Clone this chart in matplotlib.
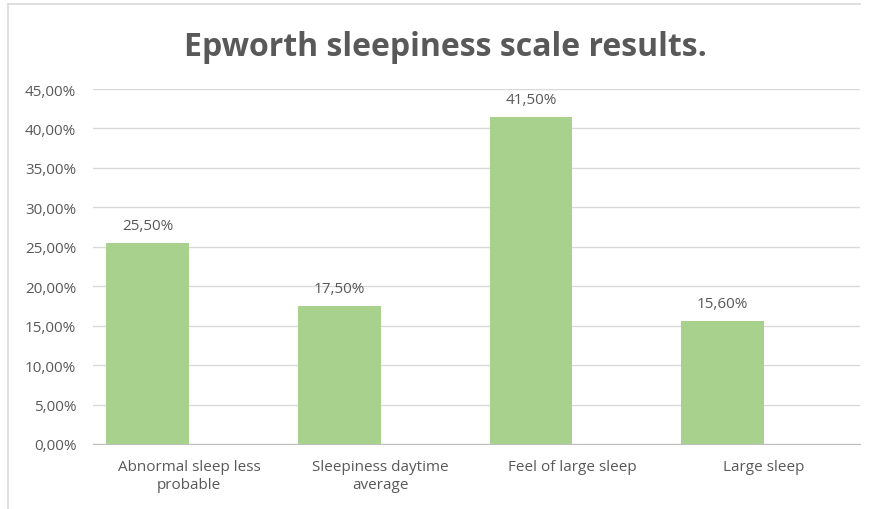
import matplotlib.pyplot as plt
from matplotlib.lines import Line2D
import numpy as np

categories = ["Abnormal sleep less\nprobable", "Sleepiness daytime\naverage",
              "Feel of large sleep", "Large sleep"]
values = [25.5, 17.5, 41.5, 15.6]
yticks = [0, 5, 10, 15, 20, 25, 30, 35, 40, 45]

plt.rcParams['font.family'] = ['Open Sans', 'DejaVu Sans']
grey = "#595959"

fig = plt.figure(figsize=(8.7, 5.1), dpi=100, facecolor="w")
ax = fig.add_axes([0.1069, 0.1275, 0.8816, 0.696])

x = np.arange(len(categories))
bars = ax.bar(x - 0.216, values, width=0.432, color="#a9d18e", zorder=3)

for b, v in zip(bars, values):
    ax.annotate(f"{v:.2f}%".replace(".", ","), (b.get_x() + b.get_width() / 2, v),
                xytext=(0, 7), textcoords="offset points", ha="center", va="bottom",
                fontsize=11, color=grey)

ax.set_xlim(-0.5, len(categories) - 0.5)
ax.set_ylim(0, 45)
ax.set_yticks(yticks)
ax.set_yticklabels([f"{t:.2f}%".replace(".", ",") for t in yticks], fontsize=11, color=grey)
ax.set_xticks(x)
ax.set_xticklabels(categories, fontsize=11, color=grey, linespacing=1.25)
ax.tick_params(length=0)
ax.tick_params(axis="x", pad=11)
ax.tick_params(axis="y", pad=12)
ax.grid(axis="y", color="#d9d9d9", linewidth=1, zorder=0)
for s in ["top", "right", "left"]:
    ax.spines[s].set_visible(False)
ax.spines["bottom"].set_color("#bfbfbf")
ax.spines["bottom"].set_zorder(4)

fig.text(0.512, 0.906, "Epworth sleepiness scale results.", ha="center", va="center",
         fontsize=23, fontweight="bold", color=grey)

# chart border (top and left only visible)
fig.add_artist(Line2D([8 / 870, 860 / 870], [1 - 5 / 510, 1 - 5 / 510], color="#d9d9d9", lw=1.2))
fig.add_artist(Line2D([8 / 870, 8 / 870], [0, 1 - 5 / 510], color="#d9d9d9", lw=1.2))

fig.savefig("out.png", dpi=100)
